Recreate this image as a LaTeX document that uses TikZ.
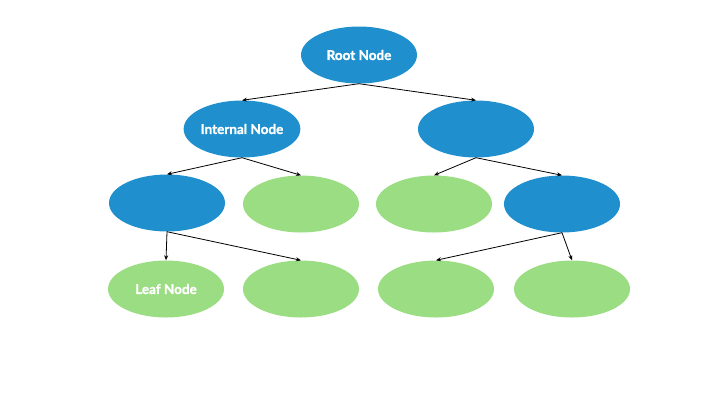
\documentclass[tikz,border=0pt]{standalone}
\usepackage{fontspec}
\setmainfont{Lato}
\newfontfamily\nodefont{Lato}[BoldFeatures={FakeBold=1.3}]
\usetikzlibrary{arrows.meta,shapes.geometric}
\definecolor{nodeblue}{RGB}{31,144,205}
\definecolor{nodegreen}{RGB}{155,221,130}
\tikzset{
  tnode/.style={ellipse,minimum width=116pt,minimum height=57pt,inner sep=0pt,
    text=white,font=\nodefont\bfseries\fontsize{13.5}{15}\selectfont},
  bluenode/.style={tnode,fill=nodeblue},
  greennode/.style={tnode,fill=nodegreen},
  conn/.style={draw=black,line width=0.8pt,-{Stealth[length=5pt,width=4pt]}}
}
\begin{document}
\begin{tikzpicture}[x=1pt,y=-1pt]
\useasboundingbox (0,0) rectangle (720,405);
\node[bluenode] (root) at (359,55) {Root Node};
\node[bluenode] (int) at (242,129) {Internal Node};
\node[bluenode] (r1) at (476,129) {};
\node[bluenode] (a) at (167,203) {};
\node[greennode] (b) at (301,204) {};
\node[greennode] (c) at (434,204) {};
\node[bluenode] (d) at (562,204) {};
\node[greennode] (leaf) at (166,289) {Leaf Node};
\node[greennode] (e) at (301,289) {};
\node[greennode] (f) at (436,289) {};
\node[greennode] (g) at (572,289) {};
\draw[conn] (root.south) -- (int.north);
\draw[conn] (root.south) -- (r1.north);
\draw[conn] (int.south) -- (a.north);
\draw[conn] (int.south) -- (b.north);
\draw[conn] (r1.south) -- (c.north);
\draw[conn] (r1.south) -- (d.north);
\draw[conn] (a.south) -- (leaf.north);
\draw[conn] (a.south) -- (e.north);
\draw[conn] (d.south) -- (f.north);
\draw[conn] (d.south) -- (g.north);
\end{tikzpicture}
\end{document}
